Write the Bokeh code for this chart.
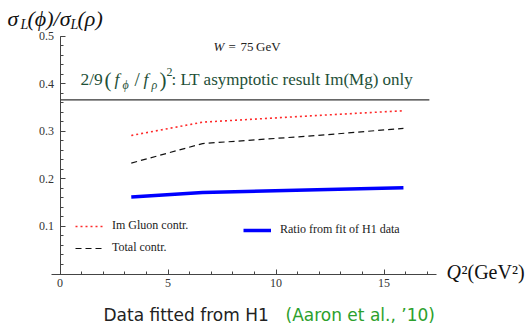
from bokeh.plotting import figure
from bokeh.models import Label, Legend, LegendItem, FixedTicker, Range1d
from bokeh.embed import file_html
from bokeh.resources import INLINE

# ---- data ----
q2 = [3.3, 6.6, 11.9, 15.9]
gluon_ratio = [0.291, 0.319, 0.333, 0.343]   # Im Gluon contr.
total_ratio = [0.233, 0.274, 0.291, 0.306]   # Total contr.
fit_ratio = [0.162, 0.171, 0.177, 0.181]     # Ratio from fit of H1 data
asym_x = [0.0, 17.1]
asym_y = [0.366, 0.366]                       # LT asymptotic result
x_ticks = [0, 5, 10, 15]
x_minor = list(range(1, 18))
y_ticks = [0.1, 0.2, 0.3, 0.4, 0.5]
y_minor = [0.02, 0.04, 0.06, 0.08, 0.10, 0.12, 0.14, 0.16, 0.18, 0.20, 0.22, 0.24,
           0.26, 0.28, 0.30, 0.32, 0.34, 0.36, 0.38, 0.40, 0.42, 0.44, 0.46, 0.48, 0.50]

W, H = 532, 324
# page position of the origin and pixel scale of the reference
X0, Y0, SX, SY = 59.5, 273.5, 21.6, 476.0

p = figure(width=W, height=H,
           x_range=Range1d(-X0 / SX, (W - X0) / SX),
           y_range=Range1d((Y0 - H) / SY, Y0 / SY),
           output_backend="svg", toolbar_location=None,
           min_border_left=0, min_border_right=0, min_border_top=0, min_border_bottom=0)
p.outline_line_color = None
p.grid.visible = False
p.background_fill_color = "white"

# Mathematica-style axes crossing at the origin
p.xaxis.fixed_location = 0
p.yaxis.fixed_location = 0
p.xaxis.bounds = (-0.4, 17.45)
p.yaxis.bounds = (0, 0.5)
for ax in (p.xaxis[0], p.yaxis[0]):
    ax.axis_line_color = "#444444"
    ax.major_tick_line_color = "#444444"
    ax.minor_tick_line_color = "#444444"
    ax.major_tick_in = 5
    ax.major_tick_out = 0
    ax.minor_tick_in = 3
    ax.minor_tick_out = 0
    ax.major_label_text_font = "Liberation Serif"
    ax.major_label_text_font_size = "12px"
    ax.major_label_text_color = "#333333"
p.xaxis.ticker = FixedTicker(ticks=x_ticks, minor_ticks=x_minor)
p.yaxis.ticker = FixedTicker(ticks=y_ticks, minor_ticks=y_minor)
p.xaxis.major_label_standoff = 5
p.yaxis.major_label_standoff = 6

p.line(asym_x, asym_y, line_color="#333333", line_width=1.3)
r_red = p.line(q2, gluon_ratio, line_color="#ff2a2a", line_width=1.6, line_dash="2 3")
r_blk = p.line(q2, total_ratio, line_color="#111111", line_width=1.2, line_dash="6 4")
r_blue = p.line(q2, fit_ratio, line_color="#0000ff", line_width=3.5)

leg_common = dict(glyph_width=28, glyph_height=14, spacing=7, label_standoff=9,
                  padding=0, margin=0, border_line_color=None, background_fill_alpha=0,
                  label_text_font="Liberation Serif", label_text_font_size="12px",
                  label_text_color="#222222")
leg1 = Legend(items=[LegendItem(label="Im Gluon contr.", renderers=[r_red]),
                     LegendItem(label="Total contr.", renderers=[r_blk])],
              location=(75, H - 255), **leg_common)
leg2 = Legend(items=[LegendItem(label="Ratio from fit of H1 data", renderers=[r_blue])],
              location=(243, H - 237), **leg_common)
p.add_layout(leg1)
p.add_layout(leg2)


def lab(text, px, py, size, style="normal", color="#222222", font="Liberation Serif"):
    # (px, py): wanted left end / baseline in page pixels; small correction for
    # the renderer's baseline placement
    py = py - 0.3 * size
    p.add_layout(Label(x=(px - X0) / SX, y=(Y0 - py) / SY, text=text,
                       text_font=font, text_font_size=f"{size}px", text_font_style=style,
                       text_color=color, text_baseline="alphabetic", text_align="left"))


# y-axis title  sigma_L(phi)/sigma_L(rho)
K = "#111111"
lab("σ", 7, 25, 22, "italic", K)
lab("L", 20, 28, 14, "italic", K)
lab("(ϕ)/σ", 27, 25, 22, "italic", K)
lab("L", 70, 28, 14, "italic", K)
lab("(ρ)", 77, 25, 22, "italic", K)

# W = 75 GeV
lab("W", 213, 50, 13, "italic", "#222222")
lab("=", 228, 50, 13, "normal", "#222222")
lab("75\u2009GeV", 240, 50, 13, "normal", "#222222")

# green annotation
G = "#1e5038"
lab("2/9", 80, 84, 17.5, "normal", G)
lab("(", 104, 86, 21, "normal", G)
lab("f", 114, 84, 17.5, "italic", G)
lab("ϕ", 122, 88, 12, "italic", G)
lab("/", 134, 85, 19, "normal", G)
lab("f", 143, 84, 17.5, "italic", G)
lab("ρ", 151, 88, 12, "italic", G)
lab(")", 159, 86, 21, "normal", G)
lab("2", 166, 75, 12, "normal", G)
lab(": LT asymptotic result Im(Mg) only", 171, 84, 17, "normal", G)

# x-axis title
lab("Q", 446, 277, 20, "italic", K)
lab("²(GeV²)", 461, 277, 20, "normal", K)

# caption
lab("Data fitted from H1", 103, 320, 17, "normal", "#222222", "DejaVu Sans")
lab("(Aaron et al., ’10)", 285, 320, 17, "normal", "#2ca02c", "DejaVu Sans")

open("out.html", "w").write(file_html(p, INLINE))
